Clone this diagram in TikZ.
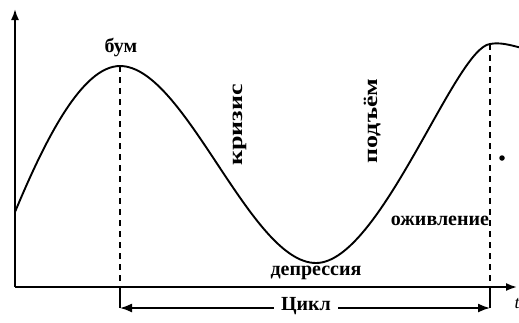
\documentclass[tikz,border=0pt]{standalone}
\usepackage{fontspec}
\setmainfont{Liberation Serif}
\usetikzlibrary{arrows.meta}
\begin{document}
\begin{tikzpicture}[x=1pt,y=-1pt,
  axis/.style={line width=1.8pt,-{Latex[length=11pt,width=8pt]}},
  curve/.style={line width=1.9pt},
  guide/.style={line width=1.4pt,dash pattern=on 6pt off 5pt},
  stem/.style={line width=1.4pt},
  cyc/.style={line width=1.6pt,-{Latex[length=12pt,width=9pt]}},
  lbl/.style={font=\fontsize{20}{22}\selectfont\bfseries,inner sep=0pt},
  vlbl/.style={lbl,rotate=90},
  big/.style={font=\fontsize{20}{22}\selectfont\bfseries,inner sep=0pt}]
\useasboundingbox (0,0) rectangle (519,322);
\coordinate (O) at (15,287);
\coordinate (Ytip) at (15,9);
\coordinate (Xtip) at (517,287);
\draw[axis] (O) -- (Ytip);
\draw[axis] (O) -- (Xtip);
% curve
\coordinate (s) at (15,212);
\coordinate (p1) at (120,66);
\coordinate (tr) at (316,263);
\coordinate (p2) at (490,44);
\coordinate (e) at (522,48);
\draw[curve] (s) .. controls (45,140) and (82,66) .. (p1)
  .. controls (185,66) and (250,263) .. (tr)
  .. controls (380,263) and (455,48) .. (p2)
  .. controls (500,42) and (510,45) .. (e);
% guides
\coordinate (b1) at (120,287);
\coordinate (c1) at (120,308);
\coordinate (b2) at (490,287);
\coordinate (c2) at (490,308);
\draw[guide] (p1) -- (b1);
\draw[guide] (p2) -- (b2);
\draw[stem] (b1) -- (c1);
\draw[stem] (b2) -- (c2);
% cycle
\node[big,inner xsep=7pt] (cycle) at (306,306) {Цикл};
\draw[cyc] (cycle.west |- c1) -- (c1);
\draw[cyc] (cycle.east |- c2) -- (c2);
% labels
\node[lbl] (boom) at (121,47) {бум};
\node[vlbl] (crisis) at (240,125) {\scalebox{1.3}[1]{кризис}};
\node[vlbl] (rise) at (373,121) {\scalebox{1.3}[1]{подъём}};
\node[lbl] (revival) at (440,221) {оживление};
\node[lbl] (depr) at (316,273) {депрессия};
\node[circle,fill,inner sep=0pt,minimum size=5.5pt] (dot) at (502,158) {};
\node[font=\fontsize{18}{20}\selectfont\itshape,inner sep=0pt] (t) at (517,304) {t};
\end{tikzpicture}
\end{document}
